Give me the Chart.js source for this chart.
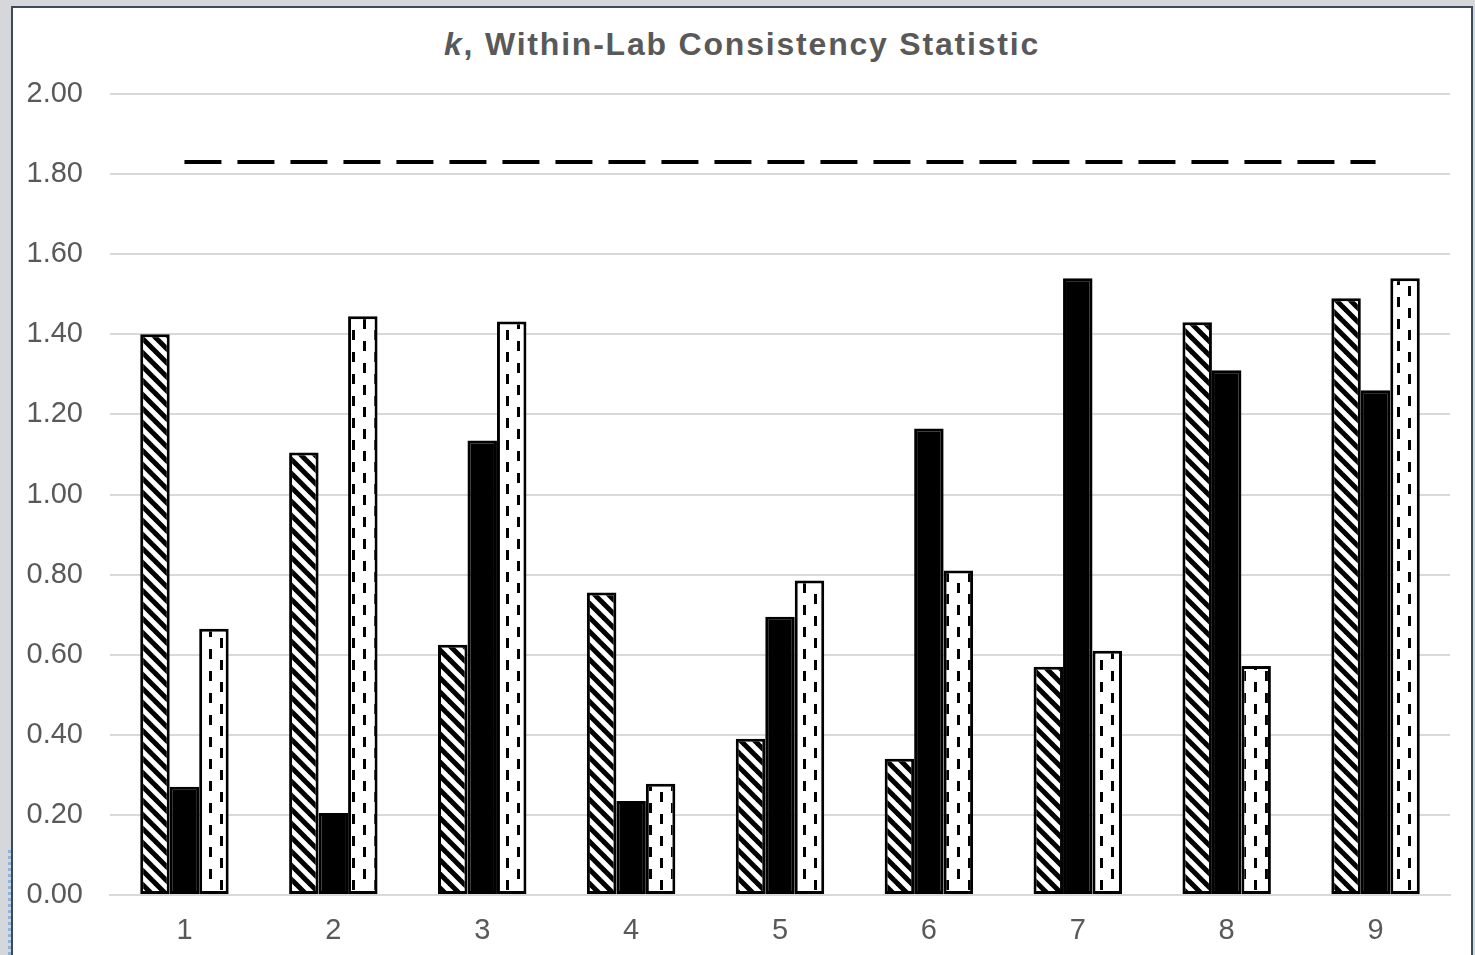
<!DOCTYPE html>
<html>
<head>
<meta charset="utf-8">
<script src="https://cdn.jsdelivr.net/npm/chart.js@4"></script>
<style>
    html, body { margin: 0; padding: 0; background: #d5d7da; width: 1475px; height: 955px; overflow: hidden; }
    #panel { position: absolute; left: 11px; top: 6px; width: 1458px; height: 960px; background: #fff; border: 2px solid #3b4a5c; }
    #handle { position: absolute; left: 8px; top: 850px; height: 105px; border-left: 3px dotted #8fb4d8; }
    #title { position: absolute; left: 13px; width: 1458px; top: 26px; text-align: center;
        font: bold 32px "Liberation Sans", Arial, sans-serif; letter-spacing: 1.8px; color: #595959; }
    #wrap { position: absolute; left: 0; top: 0; width: 1475px; height: 955px; }
</style>
</head>
<body>
<div id="panel"></div>
<div id="handle"></div>
<div id="title"><i>k</i>, Within-Lab Consistency Statistic</div>
<div id="wrap"><canvas id="chartK"></canvas></div>
<script>
// ============================
// DADOS
// ============================
const labs = ['1', '2', '3', '4', '5', '6', '7', '8', '9'];
const kMaterialA = [1.40, 1.105, 0.625, 0.755, 0.39, 0.34, 0.57, 1.43, 1.49];
const kMaterialB = [0.27, 0.205, 1.135, 0.235, 0.695, 1.165, 1.54, 1.31, 1.26];
const kMaterialC = [0.665, 1.445, 1.432, 0.278, 0.785, 0.81, 0.61, 0.572, 1.54];
const kCritical = [1.83, 1.83, 1.83, 1.83, 1.83, 1.83, 1.83, 1.83, 1.83];

// ============================
// PADRÕES (hachuras estilo Excel)
// ============================
function stripePattern() {
    const s = 14;
    const c = document.createElement('canvas');
    c.width = s; c.height = s;
    const g = c.getContext('2d');
    g.fillStyle = '#fff';
    g.fillRect(0, 0, s, s);
    g.strokeStyle = '#000';
    g.lineWidth = 5;
    [-s, 0, s].forEach(ox => {
        g.beginPath();
        g.moveTo(ox - 2, -2);
        g.lineTo(ox + s + 2, s + 2);
        g.stroke();
    });
    return g.createPattern(c, 'repeat');
}

function dashPattern() {
    const w = 22, h = 22;
    const c = document.createElement('canvas');
    c.width = w; c.height = h;
    const g = c.getContext('2d');
    g.fillStyle = '#fff';
    g.fillRect(0, 0, w, h);
    g.fillStyle = '#000';
    g.fillRect(0, 0, 3, 10);
    g.fillRect(11, 11, 3, 10);
    return g.createPattern(c, 'repeat');
}

const tickFont = { family: '"Liberation Sans", Arial, sans-serif', size: 29 };

new Chart(document.getElementById('chartK').getContext('2d'), {
    data: {
        labels: labs,
        datasets: [
            {
                type: 'line',
                label: 'k crítico',
                data: kCritical,
                borderColor: '#000',
                borderWidth: 4,
                borderDash: [37, 16],
                pointRadius: 0,
                fill: false,
                order: 0
            },
            {
                type: 'bar',
                label: 'A',
                data: kMaterialA,
                backgroundColor: stripePattern(),
                borderColor: '#000',
                borderWidth: 3,
                borderSkipped: false,
                categoryPercentage: 0.594,
                barPercentage: 1,
                order: 1
            },
            {
                type: 'bar',
                label: 'B',
                data: kMaterialB,
                backgroundColor: '#000',
                borderColor: '#000',
                borderWidth: 3,
                borderSkipped: false,
                categoryPercentage: 0.594,
                barPercentage: 1,
                order: 1
            },
            {
                type: 'bar',
                label: 'C',
                data: kMaterialC,
                backgroundColor: dashPattern(),
                borderColor: '#000',
                borderWidth: 3,
                borderSkipped: false,
                categoryPercentage: 0.594,
                barPercentage: 1,
                order: 1
            }
        ]
    },
    options: {
        responsive: true,
        maintainAspectRatio: false,
        animation: false,
        layout: { padding: { top: 94, right: 25, left: 0, bottom: 0 } },
        plugins: {
            legend: { display: false },
            title: { display: false },
            tooltip: { enabled: false }
        },
        scales: {
            x: {
                grid: { display: false },
                border: { display: true, color: '#d9d9d9', width: 2 },
                ticks: { font: tickFont, color: '#595959', padding: 11 },
                afterFit: s => { s.height = 60; }
            },
            y: {
                min: 0,
                max: 2,
                grid: { color: '#d9d9d9', lineWidth: 2, drawTicks: false },
                border: { display: false },
                ticks: {
                    stepSize: 0.2,
                    font: tickFont,
                    color: '#595959',
                    padding: 27,
                    callback: v => v.toFixed(2)
                },
                afterFit: s => { s.width = 110; }
            }
        }
    }
});
</script>
</body>
</html>
